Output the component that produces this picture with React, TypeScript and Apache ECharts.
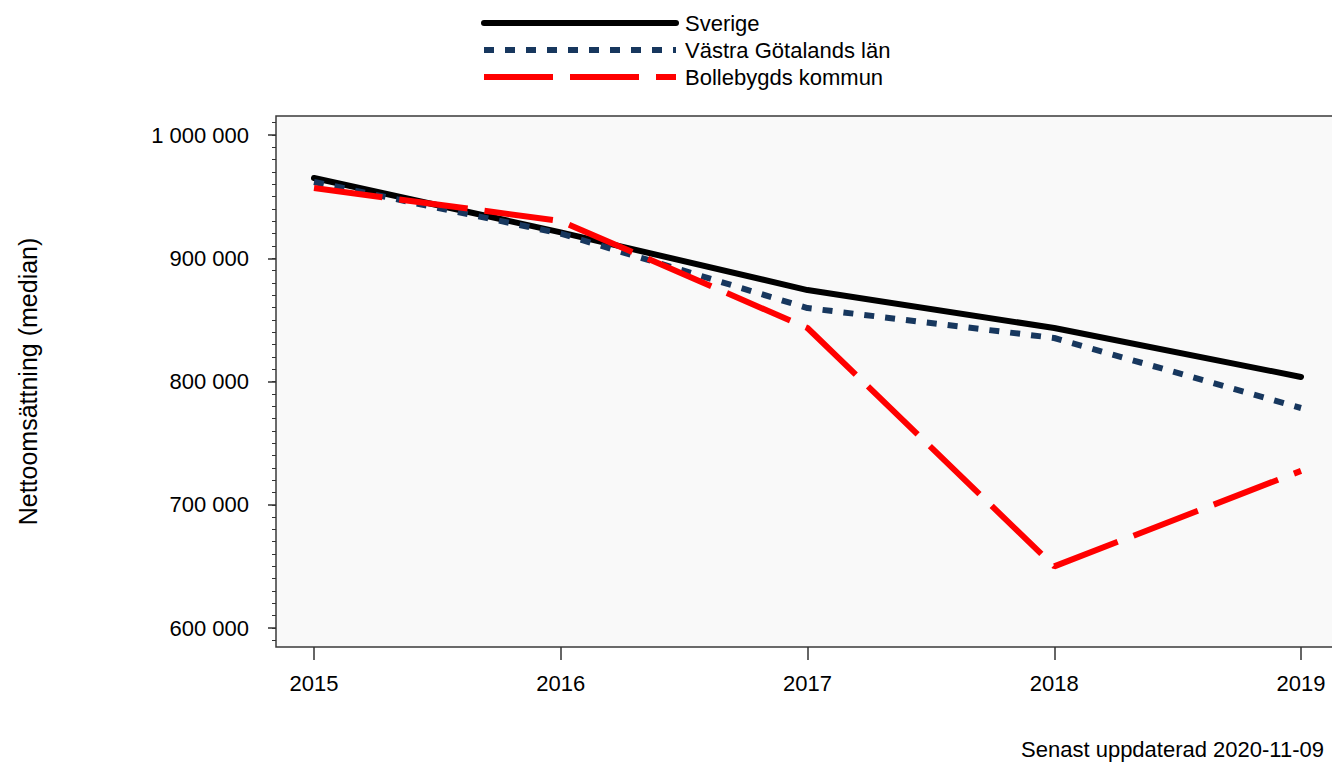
import React, { useEffect, useRef } from "react";
import * as echarts from "echarts";

const years = [2015, 2016, 2017, 2018, 2019];
const sverige = [965100, 921000, 874200, 843400, 803700];
const vastraGotaland = [961900, 920000, 859600, 835300, 778500];
const bollebygd = [957000, 930200, 843400, 650000, 727500];
const seriesNames = ["Sverige", "Västra Götalands län", "Bollebygds kommun"];
const yTicks = { min: 600000, max: 1000000, step: 100000 };
const minorTicks = { min: 590000, max: 1010000, step: 10000 };
const yAxisTitle = "Nettoomsättning (median)";
const footer = "Senast uppdaterad 2020-11-09";

const FONT = "'Liberation Sans', Arial, sans-serif";
const FS = 22;

function fmt(v: number) {
  return String(Math.round(v)).replace(/\B(?=(\d{3})+(?!\d))/g, " ");
}

export default function App() {
  const ref = useRef<HTMLDivElement>(null);
  useEffect(() => {
    if (!ref.current) return;
    const chart = echarts.init(ref.current, null, { renderer: "svg" });
    const pxPerUnit = 493 / (yTicks.max - yTicks.min);
    const g2top = 135 - (minorTicks.max - yTicks.max) * pxPerUnit;
    const g2height = (minorTicks.max - minorTicks.min) * pxPerUnit;
    const mk = (vals: number[]) => years.map((y, i) => [y, vals[i]]);
    chart.setOption({
      animation: false,
      textStyle: { fontFamily: FONT },
      legend: {
        orient: "vertical",
        left: 481,
        top: 12,
        padding: 0,
        itemWidth: 192,
        itemHeight: 20,
        itemGap: 5,
        itemStyle: { opacity: 0, borderWidth: 0 },
        lineStyle: { width: 6 },
        textStyle: { fontSize: FS, color: "#000", fontFamily: FONT, lineHeight: 20, padding: [0, 0, 0, 4] },
        data: seriesNames,
      },
      grid: [
        { left: 314, right: 31, top: 135, bottom: 137 },
        { left: 276, right: 31, top: g2top, height: g2height },
      ],
      graphic: [
        {
          type: "rect",
          z: -10,
          silent: true,
          shape: { x: 276, y: 116, width: 1070, height: 531 },
          style: { fill: "#F9F9F9", stroke: "#3a3a3a", lineWidth: 1.5 },
        },
        {
          type: "text",
          right: 8,
          top: 738,
          style: { text: footer, font: `${FS}px ${FONT}`, fill: "#000" },
        },
      ],
      xAxis: [
        {
          type: "value",
          gridIndex: 0,
          min: years[0],
          max: years[years.length - 1],
          interval: 1,
          offset: 19,
          axisLine: { show: false },
          axisTick: { show: true, length: 13, lineStyle: { color: "#333", width: 1.5 } },
          splitLine: { show: false },
          axisLabel: { fontSize: FS, color: "#000", margin: 25, fontFamily: FONT, formatter: (v: number) => String(v) },
        },
        { type: "value", gridIndex: 1, min: 0, max: 1, show: false },
      ],
      yAxis: [
        {
          type: "value",
          gridIndex: 0,
          min: yTicks.min,
          max: yTicks.max,
          interval: yTicks.step,
          offset: 38,
          name: yAxisTitle,
          nameLocation: "middle",
          nameGap: 236,
          nameTextStyle: { fontSize: 25, color: "#000", fontFamily: FONT },
          axisLine: { show: false },
          axisTick: { show: true, length: 8, lineStyle: { color: "#333", width: 1.5 } },
          splitLine: { show: false },
          axisLabel: { fontSize: FS, color: "#000", margin: 27, fontFamily: FONT, formatter: (v: number) => fmt(v) },
        },
        {
          type: "value",
          gridIndex: 1,
          min: minorTicks.min,
          max: minorTicks.max,
          interval: minorTicks.step,
          axisLine: { show: false },
          axisTick: { show: true, length: 4, lineStyle: { color: "#333", width: 1 } },
          axisLabel: { show: false },
          splitLine: { show: false },
        },
      ],
      series: [
        {
          name: seriesNames[0],
          type: "line",
          data: mk(sverige),
          symbol: "none",
          z: 3,
          lineStyle: { color: "#000000", width: 6, cap: "round", join: "round" },
          itemStyle: { color: "#000000" },
        },
        {
          name: seriesNames[1],
          type: "line",
          data: mk(vastraGotaland),
          symbol: "none",
          z: 4,
          lineStyle: { color: "#17375E", width: 6, type: [10, 11], cap: "butt" },
          itemStyle: { color: "#17375E" },
        },
        {
          name: seriesNames[2],
          type: "line",
          data: mk(bollebygd),
          symbol: "none",
          z: 5,
          lineStyle: { color: "#FF0000", width: 6, type: [69, 17], cap: "butt" },
          itemStyle: { color: "#FF0000" },
        },
      ],
    });
    return () => chart.dispose();
  }, []);
  return (
    <div
      ref={ref}
      style={{ position: "absolute", left: 0, top: 0, width: 1332, height: 765 }}
    />
  );
}
